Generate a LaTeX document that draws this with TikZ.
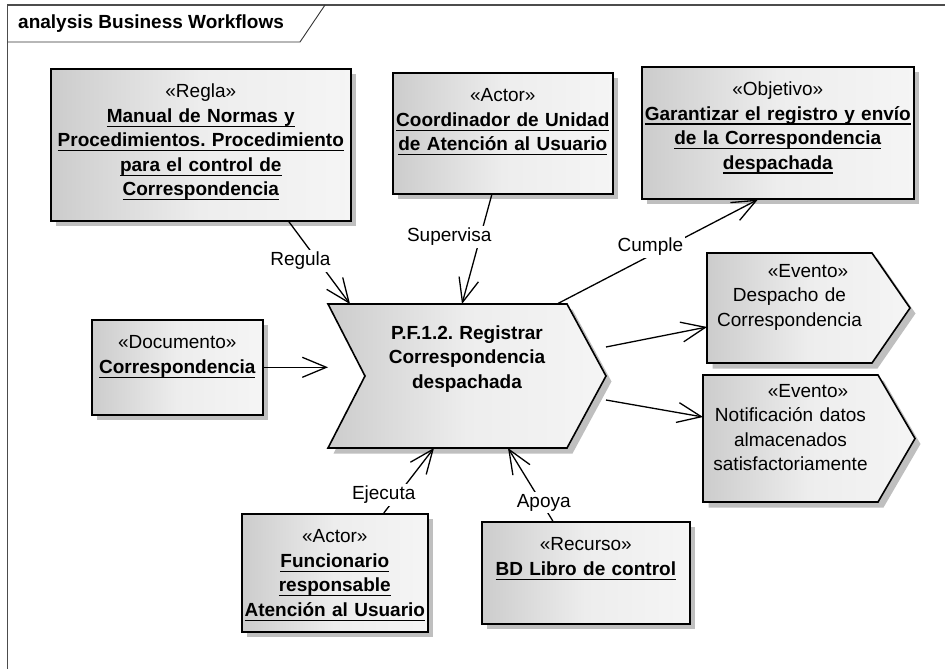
\documentclass[tikz,border=0pt]{standalone}
\usepackage{fontspec}
\setmainfont{Liberation Sans}
\usetikzlibrary{arrows.meta,shadows,backgrounds}
\newsavebox{\namebox}
\newcommand{\elname}[1]{\leavevmode\sbox{\namebox}{\bfseries #1}%
  \rlap{\usebox{\namebox}}\rule[-4.5pt]{\wd\namebox}{1.3pt}}
\frenchspacing

\begin{document}
\begin{tikzpicture}[x=1pt,y=-1pt,>={Straight Barb[length=24pt,width=20pt]},
    font=\fontsize{19}{24.5}\selectfont\frenchspacing,
    shaded/.style={left color=black!20,right color=black!4,middle color=black!7,
      drop shadow={shadow xshift=5.5pt,shadow yshift=-5.5pt,fill=black!25,opacity=1}},
    classbox/.style={shaded,draw,line width=1.6pt,anchor=north west,align=center,
      inner xsep=1pt,inner ysep=2pt,text height=27pt},
    shapebox/.style={anchor=north west,align=center,inner xsep=1pt,inner ysep=2pt,
      outer sep=0pt},
    shapeline/.style={shaded,draw,line width=1.6pt},
    link/.style={line width=1.3pt},
    linklabel/.style={fill=white,inner sep=2pt}]

    \useasboundingbox (0,0) rectangle (945,669);

    % frame and its tab
    \draw[black!70,line width=1.8pt] (7.5,690) -- (7.5,5) -- (960,5);
    \draw[black!80,line width=0.9pt] (7.5,42) -- (300,42) -- (325,5);
    \node[font=\fontsize{19}{24}\selectfont\bfseries,anchor=base west,inner sep=0pt]
      (frametitle) at (18,29) {analysis Business Workflows};

    % classifiers
    \node[classbox,text width=298pt,text depth=121pt] (regla) at (50,68)
      {«Regla»\\\elname{Manual de Normas y}\\\elname{Procedimientos. Procedimiento}\\
       \elname{para el control de}\\\elname{Correspondencia}};
    \node[classbox,text width=218pt,text depth=90pt] (coord) at (392,72)
      {«Actor»\\\elname{Coordinador de Unidad}\\\elname{de Atención al Usuario}};
    \node[classbox,text width=270pt,text depth=101pt] (goal) at (641,66)
      {«Objetivo»\\\elname{Garantizar el registro y envío}\\
       \elname{de la Correspondencia}\\\elname{despachada}};
    \node[classbox,text width=169pt,text depth=64pt] (doc) at (91,319)
      {«Documento»\\\elname{Correspondencia}};
    \node[classbox,text width=184pt,text depth=87pt] (clerk) at (241,513)
      {«Actor»\\\elname{Funcionario}\\\elname{responsable}\\\elname{Atención al Usuario}};
    \node[classbox,text width=206pt,text depth=71pt] (db) at (481,521)
      {«Recurso»\\\elname{BD Libro de control}};

    % process and events
    \node[shapebox,text width=276pt,text height=33pt,text depth=107pt,
      font=\fontsize{19}{24.5}\selectfont\bfseries] (proc) at (328,304)
      {P.F.1.2. Registrar\\Correspondencia\\despachada};
    \node[shapebox,text width=163pt,text height=22pt,text depth=84pt] (ev1) at (707,253)
      {\hspace*{37pt}«Evento»\\Despacho de\\Correspondencia};
    \node[shapebox,text width=173pt,text height=20pt,text depth=103pt] (ev2) at (703,375)
      {\hspace*{35pt}«Evento»\\Notificación datos\\almacenados\\satisfactoriamente};

    \begin{scope}[on background layer]
      \draw[shapeline] (proc.north west) -- ([xshift=-39pt]proc.north east) -- (proc.east)
        -- ([xshift=-39pt]proc.south east) -- (proc.south west)
        -- ([xshift=37pt]proc.west) -- cycle;
      \draw[shapeline] (ev1.north west) -- (ev1.north east) -- ([xshift=38pt]ev1.east)
        -- (ev1.south east) -- (ev1.south west) -- cycle;
      \draw[shapeline] (ev2.north west) -- (ev2.north east) -- ([xshift=37pt]ev2.east)
        -- (ev2.south east) -- (ev2.south west) -- cycle;
    \end{scope}

    % connectors
    \draw[link,->] ([xshift=88pt]regla.south)
      -- node[linklabel,pos=0.476,xshift=-17.5pt] {Regula} ([xshift=22pt]proc.north west);
    \draw[link,->] ([xshift=-11pt]coord.south)
      -- node[linklabel,pos=0.387,xshift=-31pt] {Supervisa} ([xshift=134pt]proc.north west);
    \draw[link,->] ([xshift=-49pt]proc.north east)
      -- node[linklabel,pos=0.465,yshift=8.6pt] {Cumple} ([xshift=-20pt]goal.south);
    \draw[link,->] (doc.east) -- (doc.east -| proc.west);
    \draw[link,->] ([yshift=29pt]proc.east) -- ([yshift=-19pt]ev1.west);
    \draw[link,->] ([yshift=-24pt]proc.east) -- ([yshift=21.5pt]ev2.west);
    \draw[link,->] ([xshift=49pt]clerk.north)
      -- node[linklabel,pos=0.277,xshift=-14pt] {Ejecuta} ([xshift=106pt]proc.south west);
    \draw[link,->] ([xshift=-33pt]db.north)
      -- node[linklabel,pos=0.247,xshift=2pt] {Apoya} ([xshift=180pt]proc.south west);
\end{tikzpicture}
\end{document}
